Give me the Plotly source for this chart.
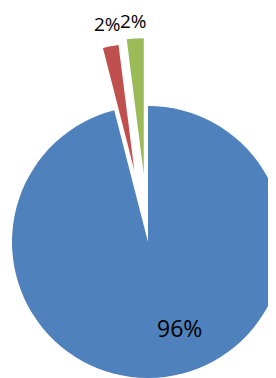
import math
import plotly.graph_objects as go

labels = ["Série A", "Série B", "Série C"]
values = [96, 2, 2]
colors = ["#4F81BD", "#C0504D", "#9BBB59"]
pulls = [0.0, 0.5, 0.5]

W, H = 276, 378
cx, cy, r = 140, 234, 136  # base pie centre / radius in figure px

total = sum(values)
fig = go.Figure()
annotations = []


def clamp(t):
    return min(1.0, max(0.0, t))


start = 0.0
for i, v in enumerate(values):
    mid = (start + v / 2.0) / total * 2 * math.pi
    start += v
    sx, sy = math.sin(mid), -math.cos(mid)
    d = pulls[i] * r
    di = d
    for _ in range(12):
        ox = cx + di * sx
        oy = cy + di * sy
        ri = min(r, ox, W - ox, oy, H - oy)
        di = d + (r - ri) / 2.0
    ox = cx + di * sx
    oy = cy + di * sy
    ri = min(r, ox, W - ox, oy, H - oy) - 0.01
    fig.add_trace(go.Pie(
        labels=labels,
        values=values,
        sort=False,
        direction="clockwise",
        rotation=0,
        domain=dict(x=[clamp((ox - ri) / W), clamp((ox + ri) / W)],
                    y=[clamp(1 - (oy + ri) / H), clamp(1 - (oy - ri) / H)]),
        marker=dict(colors=[c if j == i else "rgba(0,0,0,0)" for j, c in enumerate(colors)],
                    line=dict(width=0)),
        textinfo="none",
        showlegend=False,
        hoverinfo="none",
        automargin=False,
    ))
    txt = f"{round(100 * v / total)}%"
    if pulls[i] > 0:
        # label just above the outer arc of the exploded slice
        px_ = cx + (d + r) * sx
        py_ = cy + (d + r) * sy
        annotations.append(dict(
            x=clamp(px_ / W), y=clamp(1 - py_ / H), xref="paper", yref="paper",
            text=txt, showarrow=False, xanchor="center", yanchor="middle",
            xshift=-2, yshift=17.5, borderpad=0,
            font=dict(family="Open Sans", size=19, color="black"),
        ))
    else:
        # best-fit label inside the large slice
        px_ = cx + 0.235 * r
        py_ = cy + 0.632 * r
        annotations.append(dict(
            x=clamp(px_ / W), y=clamp(1 - py_ / H), xref="paper", yref="paper",
            text=txt, showarrow=False, xanchor="center", yanchor="middle",
            font=dict(family="Open Sans", size=23, color="black"),
        ))

fig.update_layout(
    width=W, height=H,
    margin=dict(l=0, r=0, t=0, b=0),
    paper_bgcolor="white",
    plot_bgcolor="white",
    annotations=annotations,
)
fig.write_html(
    "out.html",
    post_script="document.documentElement.style.overflow='hidden';"
                "document.body.style.overflow='hidden';",
)
